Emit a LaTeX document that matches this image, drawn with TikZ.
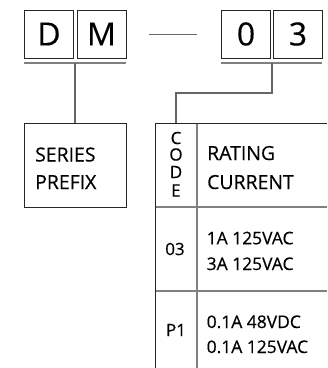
\documentclass[tikz,border=0pt]{standalone}
\usepackage{fontspec}
\setmainfont{Open Sans}[FakeBold=0.4]
\begin{document}
\begin{tikzpicture}[x=1bp,y=-1bp,
  letterbox/.style={draw=black!85,line width=0.9bp,minimum width=49bp,minimum height=48bp,inner sep=0pt,font=\fontsize{32}{38}\selectfont},
  uline/.style={draw=black!50,line width=1.6bp},
  conn/.style={draw=black!60,line width=1.1bp},
  frame/.style={draw=black!85,line width=0.9bp},
  grid/.style={draw=black!50,line width=1.6bp},
  hdr/.style={anchor=base west,inner sep=0pt,font=\fontsize{19.5}{22}\selectfont},
  dat/.style={anchor=base west,inner sep=0pt,font=\fontsize{17.5}{20}\selectfont},
  code/.style={anchor=center,inner sep=0pt,font=\fontsize{17}{20}\selectfont}]
\useasboundingbox (0,0) rectangle (328,368);
% top letter boxes
\node[letterbox] (D) at (49,34) {D};
\node[letterbox] (M) at (101.5,34) {M};
\node[letterbox] (Z) at (246,34) {0};
\node[letterbox] (T) at (298,34) {3};
% underlines
\coordinate (u1a) at (24,63); \coordinate (u1b) at (126,63);
\coordinate (u2a) at (221,63); \coordinate (u2b) at (322,63);
\draw[uline] (u1a) -- (u1b);
\draw[uline] (u2a) -- (u2b);
% dash
\coordinate (da) at (149,34); \coordinate (db) at (197,34);
\draw[draw=black!60,line width=1bp] (da) -- (db);
% connectors
\coordinate (c1) at (75,63); \coordinate (c1e) at (75,123);
\draw[conn] (c1) -- (c1e);
\coordinate (c2) at (272,63); \coordinate (c2e) at (176,123);
\draw[conn] (c2) |- (176,93) -- (c2e);
% series prefix box
\node[frame,minimum width=102bp,minimum height=84bp,inner sep=0pt] (SP) at (75,165) {};
\node[hdr] (s1) at (35,161.5) {SERIES};
\node[hdr] (s2) at (35,189) {PREFIX};
% table
\coordinate (tl) at (155,123); \coordinate (tr) at (327,123);
\coordinate (bl) at (155,368); \coordinate (cd) at (197,123); \coordinate (cb) at (197,368);
\draw[grid] (155,207) -- (327,207);
\draw[grid] (155,291) -- (327,291);
\draw[grid] (cd) -- (cb);
\draw[frame] (tl) -- (tr);
\draw[frame] (tl) -- (bl);
\node[code] (cC) at (176,138) {C};
\node[code] (cO) at (176,154.5) {O};
\node[code] (cD) at (176,172) {D};
\node[code] (cE) at (176,190.5) {E};
\node[hdr] (r1) at (207,160) {RATING};
\node[hdr] (r2) at (207,189) {CURRENT};
\node[code] (k1) at (175,249) {03};
\node[dat] (d1) at (206.5,244.3) {1A 125VAC};
\node[dat] (d2) at (206.5,270) {3A 125VAC};
\node[code] (k2) at (176,330) {P1};
\node[dat] (d3) at (206.5,328) {0.1A 48VDC};
\node[dat] (d4) at (206.5,353) {0.1A 125VAC};
\end{tikzpicture}
\end{document}
